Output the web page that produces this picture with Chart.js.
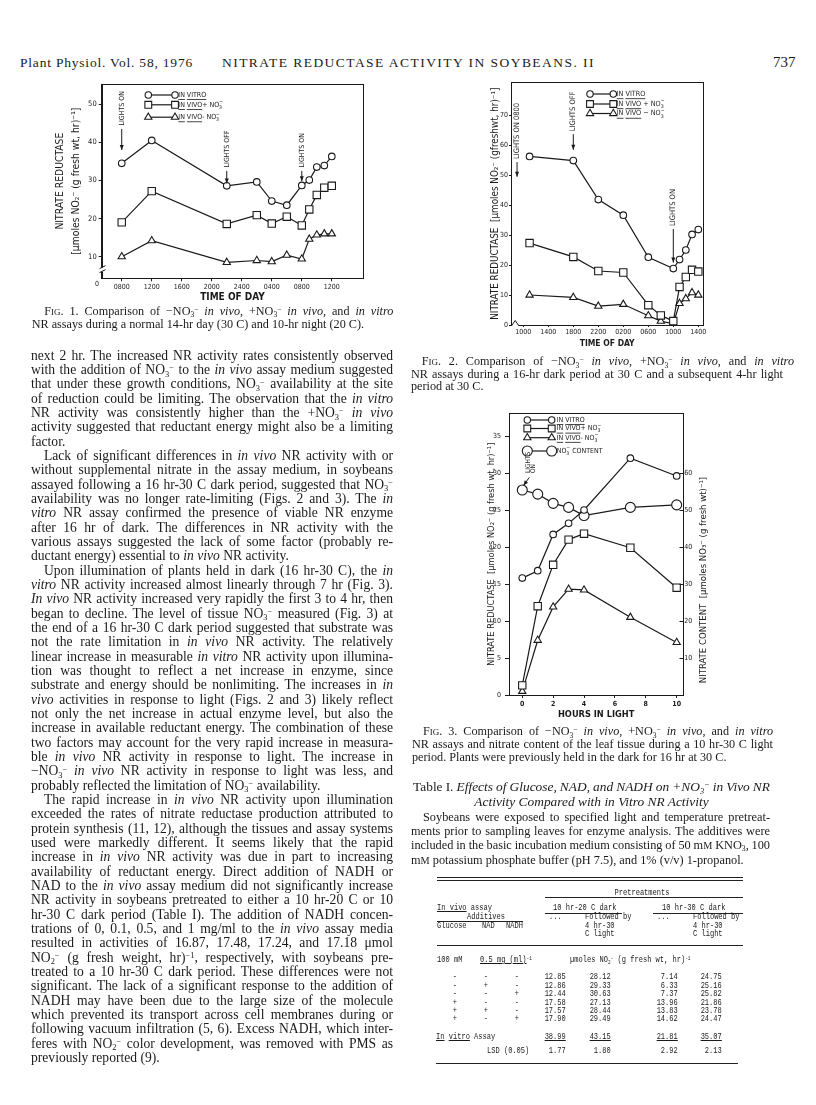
<!DOCTYPE html>
<html>
<head>
<meta charset="utf-8">
<title>Nitrate reductase activity in soybeans. II</title>
<script src="https://cdn.jsdelivr.net/npm/chart.js@4.4.1/dist/chart.umd.min.js"></script>
<style>
  html, body { margin: 0; padding: 0; background: #fff; }
  #page { position: relative; width: 816px; height: 1105px; overflow: hidden; color: #1a1a1a;
          font-family: "Liberation Serif", "Times New Roman", serif; }
  .abs { position: absolute; white-space: nowrap; }
  canvas { position: absolute; }
  .blk { position: absolute; }
  .ln { white-space: nowrap; }
  .ln.c { text-align: center; }
  sub, sup { font-size: 0.62em; line-height: 0; position: relative; vertical-align: baseline; }
  sub { top: 0.32em; }
  sup { top: -0.45em; }
  .sc { font-variant: small-caps; }
  .tt { position: absolute; font-family: "Liberation Mono", "DejaVu Sans Mono", monospace; font-size: 8.6px;
        line-height: 10px; height: 10px; white-space: nowrap; transform: scaleX(0.82); transform-origin: left center; }
  .tt.r { transform-origin: right center; }
  .tt.c { transform-origin: center center; text-align: center; }
  .u { text-decoration: underline; }
  .rule { position: absolute; height: 0; border-top: 1px solid #222; }
</style>
</head>
<body>
<div id="page">

  <!-- running head -->
  <div class="abs fit" data-w="173" style="left:20px;top:54px;font-size:13.5px;line-height:17px">Plant Physiol. Vol. 58, 1976</div>
  <div class="abs fit" data-w="373" style="left:222px;top:54px;font-size:13.5px;line-height:17px">NITRATE REDUCTASE ACTIVITY IN SOYBEANS. II</div>
  <div class="abs" style="left:773px;top:53px;font-size:15px;line-height:18px">737</div>

  <canvas id="fig1" width="360" height="232" style="left:20px;top:76px"></canvas>
  <canvas id="fig2" width="240" height="282" style="left:480px;top:76px"></canvas>
  <canvas id="fig3" width="240" height="320" style="left:480px;top:405px"></canvas>

  <!-- Fig. 1 caption -->
  <div class="blk" style="left:31.7px;top:305px;width:361.6px;font-size:12.2px;line-height:13.3px" data-ind="12.6">
    <div class="ln p"><span class="sc">Fig.</span> 1. Comparison of −NO3~ <i>in vivo</i>, +NO3~ <i>in vivo</i>, and <i>in vitro</i></div>
    <div class="ln e">NR assays during a normal 14-hr day (30 C) and 10-hr night (20 C).</div>
  </div>

  <!-- left column text -->
  <div class="blk" style="left:31px;top:348.8px;width:362px;font-size:13.6px;line-height:14.33px" data-ind="13">
    <div class="ln">next 2 hr. The increased NR activity rates consistently observed</div>
    <div class="ln">with the addition of NO3~ to the <i>in vivo</i> assay medium suggested</div>
    <div class="ln">that under these growth conditions, NO3~ availability at the site</div>
    <div class="ln">of reduction could be limiting. The observation that the <i>in vitro</i></div>
    <div class="ln">NR activity was consistently higher than the +NO3~ <i>in vivo</i></div>
    <div class="ln">activity suggested that reductant energy might also be a limiting</div>
    <div class="ln e">factor.</div>
    <div class="ln p">Lack of significant differences in <i>in vivo</i> NR activity with or</div>
    <div class="ln">without supplemental nitrate in the assay medium, in soybeans</div>
    <div class="ln">assayed following a 16 hr-30 C dark period, suggested that NO3~</div>
    <div class="ln">availability was no longer rate-limiting (Figs. 2 and 3). The <i>in</i></div>
    <div class="ln"><i>vitro</i> NR assay confirmed the presence of viable NR enzyme</div>
    <div class="ln">after 16 hr of dark. The differences in NR activity with the</div>
    <div class="ln">various assays suggested the lack of some factor (probably re-</div>
    <div class="ln e">ductant energy) essential to <i>in vivo</i> NR activity.</div>
    <div class="ln p">Upon illumination of plants held in dark (16 hr-30 C), the <i>in</i></div>
    <div class="ln"><i>vitro</i> NR activity increased almost linearly through 7 hr (Fig. 3).</div>
    <div class="ln"><i>In vivo</i> NR activity increased very rapidly the first 3 to 4 hr, then</div>
    <div class="ln">began to decline. The level of tissue NO3~ measured (Fig. 3) at</div>
    <div class="ln">the end of a 16 hr-30 C dark period suggested that substrate was</div>
    <div class="ln">not the rate limitation in <i>in vivo</i> NR activity. The relatively</div>
    <div class="ln">linear increase in measurable <i>in vitro</i> NR activity upon illumina-</div>
    <div class="ln">tion was thought to reflect a net increase in enzyme, since</div>
    <div class="ln">substrate and energy should be nonlimiting. The increases in <i>in</i></div>
    <div class="ln"><i>vivo</i> activities in response to light (Figs. 2 and 3) likely reflect</div>
    <div class="ln">not only the net increase in actual enzyme level, but also the</div>
    <div class="ln">increase in available reductant energy. The combination of these</div>
    <div class="ln">two factors may account for the very rapid increase in measura-</div>
    <div class="ln">ble <i>in vivo</i> NR activity in response to light. The increase in</div>
    <div class="ln">−NO3~ <i>in vivo</i> NR activity in response to light was less, and</div>
    <div class="ln e">probably reflected the limitation of NO3~ availability.</div>
    <div class="ln p">The rapid increase in <i>in vivo</i> NR activity upon illumination</div>
    <div class="ln">exceeded the rates of nitrate reductase production attributed to</div>
    <div class="ln">protein synthesis (11, 12), although the tissues and assay systems</div>
    <div class="ln">used were markedly different. It seems likely that the rapid</div>
    <div class="ln">increase in <i>in vivo</i> NR activity was due in part to increasing</div>
    <div class="ln">availability of reductant energy. Direct addition of NADH or</div>
    <div class="ln">NAD to the <i>in vivo</i> assay medium did not significantly increase</div>
    <div class="ln">NR activity in soybeans pretreated to either a 10 hr-20 C or 10</div>
    <div class="ln">hr-30 C dark period (Table I). The addition of NADH concen-</div>
    <div class="ln">trations of 0, 0.1, 0.5, and 1 mg/ml to the <i>in vivo</i> assay media</div>
    <div class="ln">resulted in activities of 16.87, 17.48, 17.24, and 17.18 μmol</div>
    <div class="ln">NO2~ (g fresh weight, hr)<sup>−1</sup>, respectively, with soybeans pre-</div>
    <div class="ln">treated to a 10 hr-30 C dark period. These differences were not</div>
    <div class="ln">significant. The lack of a significant response to the addition of</div>
    <div class="ln">NADH may have been due to the large size of the molecule</div>
    <div class="ln">which prevented its transport across cell membranes during or</div>
    <div class="ln">following vacuum infiltration (5, 6). Excess NADH, which inter-</div>
    <div class="ln">feres with NO2~ color development, was removed with PMS as</div>
    <div class="ln e">previously reported (9).</div>
  </div>

  <!-- Fig. 2 caption -->
  <div class="blk" style="left:411px;top:355.4px;width:383px;font-size:12.2px;line-height:12.5px" data-ind="10.7">
    <div class="ln p"><span class="sc">Fig.</span> 2. Comparison of −NO3~ <i>in vivo</i>, +NO3~ <i>in vivo</i>, and <i>in vitro</i></div>
    <div class="ln" data-w="372">NR assays during a 16-hr dark period at 30 C and a subsequent 4-hr light</div>
    <div class="ln e">period at 30 C.</div>
  </div>

  <!-- Fig. 3 caption -->
  <div class="blk" style="left:412px;top:725.3px;width:361px;font-size:12.2px;line-height:12.7px" data-ind="11">
    <div class="ln p"><span class="sc">Fig.</span> 3. Comparison of −NO3~ <i>in vivo</i>, +NO3~ <i>in vivo</i>, and <i>in vitro</i></div>
    <div class="ln">NR assays and nitrate content of the leaf tissue during a 10 hr-30 C light</div>
    <div class="ln e">period. Plants were previously held in the dark for 16 hr at 30 C.</div>
  </div>

  <!-- Table I title and note -->
  <div class="blk" style="left:413px;top:780.1px;width:357px;font-size:13.4px;line-height:14.4px">
    <div class="ln">Table I. <i>Effects of Glucose, NAD, and NADH on +NO3~ in Vivo NR</i></div>
    <div class="ln c"><i>Activity Compared with in Vitro NR Activity</i></div>
  </div>
  <div class="blk" style="left:411px;top:809.6px;width:359px;font-size:12.3px;line-height:14.2px" data-ind="12">
    <div class="ln p">Soybeans were exposed to specified light and temperature pretreat-</div>
    <div class="ln">ments prior to sampling leaves for enzyme analysis. The additives were</div>
    <div class="ln">included in the basic incubation medium consisting of 50 m<small>M</small> KNO<sub>3</sub>, 100</div>
    <div class="ln e">m<small>M</small> potassium phosphate buffer (pH 7.5), and 1% (v/v) 1-propanol.</div>
  </div>
</div>

<script>
// ---------- Fig. 1: normal 14-hr day / 10-hr night ----------
var fig1Hours = [8, 12, 22, 26, 28, 30, 32, 33, 34, 35, 36];
var fig1InVitro = [34.5, 40.5, 28.6, 29.6, 24.6, 23.5, 28.7, 30.1, 33.5, 33.9, 36.3];
var fig1InVivoPlus = [19.0, 27.2, 18.6, 20.9, 18.7, 20.5, 18.2, 22.4, 26.2, 28.1, 28.6];
var fig1InVivoMinus = [10.0, 14.2, 8.5, 9.0, 8.7, 10.4, 9.4, 14.6, 15.7, 16.0, 16.0];
var fig1XTicks = [8, 12, 16, 20, 24, 28, 32, 36];
var fig1XLabels = ['0800', '1200', '1600', '2000', '2400', '0400', '0800', '1200'];
var fig1YTicks = [10, 20, 30, 40, 50];

// ---------- Fig. 2: 16-hr dark then 4-hr light ----------
var fig2VitroHours = [11, 18, 22, 26, 30, 34, 35, 36, 37, 38];
var fig2InVitro = [56.2, 54.8, 41.8, 36.6, 22.6, 18.8, 21.8, 25.0, 30.2, 31.8];
var fig2VivoHours = [11, 18, 22, 26, 30, 32, 34, 35, 36, 37, 38];
var fig2InVivoPlus = [27.3, 22.7, 18.0, 17.5, 6.6, 3.2, 1.3, 12.7, 16.0, 18.4, 17.8];
var fig2InVivoMinus = [10.0, 9.2, 6.3, 6.9, 3.1, 1.3, 0.4, 7.2, 8.8, 10.8, 10.0];
var fig2XTicks = [10, 14, 18, 22, 26, 30, 34, 38];
var fig2XLabels = ['1000', '1400', '1800', '2200', '0200', '0600', '1000', '1400'];
var fig2YTicks = [0, 10, 20, 30, 40, 50, 60, 70];

// ---------- Fig. 3: hours in light ----------
var fig3Hours = [0, 1, 2, 3, 4, 7, 10];
var fig3InVitro = [15.8, 16.8, 21.7, 23.2, 25.0, 32.0, 29.6];
var fig3InVivoPlus = [1.3, 12.0, 17.6, 21.0, 21.8, 19.9, 14.5];
var fig3InVivoMinus = [0.5, 7.4, 11.9, 14.3, 14.2, 10.5, 7.1];
var fig3NitrateContent = [55.4, 54.3, 51.8, 50.7, 48.5, 50.7, 51.4];
var fig3XTicks = [0, 2, 4, 6, 8, 10];
var fig3YTicks = [0, 5, 10, 15, 20, 25, 30, 35];
var fig3Y2Ticks = [10, 20, 30, 40, 50, 60];

// ---------- Table I ----------
var tableGlucose = ['-', '-', '-', '+', '+', '+'];
var tableNad = ['-', '+', '-', '-', '+', '-'];
var tableNadh = ['-', '-', '+', '-', '-', '+'];
var table20Dark = [12.85, 12.86, 12.44, 17.58, 17.57, 17.90];
var table20Light = [28.12, 29.33, 30.63, 27.13, 28.44, 29.49];
var table30Dark = [7.14, 6.33, 7.37, 13.96, 13.83, 14.62];
var table30Light = [24.75, 25.16, 25.82, 21.86, 23.78, 24.47];
var tableInVitro = [38.99, 43.15, 21.81, 35.07];
var tableLsd = [1.77, 1.80, 2.92, 2.13];

var INK = '#1a1a1a';
var SANS = "'DejaVu Sans Condensed', 'DejaVu Sans', sans-serif";

// ---------- text layout ----------
function setText() {
    document.querySelectorAll('.blk').forEach(function (blk) {
        blk.innerHTML = blk.innerHTML.replace(/NO([23])~/g, 'NO<sub>$1</sub><sup>−</sup>');
        var width = parseFloat(blk.style.width);
        var ind = parseFloat(blk.getAttribute('data-ind') || '0');
        blk.querySelectorAll('.ln').forEach(function (ln) {
            ln.innerHTML = '<span class="t">' + ln.innerHTML + '</span>';
            if (ln.classList.contains('c')) return;
            var first = ln.classList.contains('p');
            if (first) ln.style.paddingLeft = ind + 'px';
            var target = ln.getAttribute('data-w') ? parseFloat(ln.getAttribute('data-w')) : width - (first ? ind : 0);
            var span = ln.firstChild;
            var natural = span.getBoundingClientRect().width;
            var gaps = (span.textContent.trim().match(/ /g) || []).length;
            if (!gaps) return;
            var ws = (target - natural) / gaps;
            if (ln.classList.contains('e') && ws > 0) ws = 0;
            ln.style.wordSpacing = ws + 'px';
        });
    });
    document.querySelectorAll('.fit').forEach(function (el) {
        var target = parseFloat(el.getAttribute('data-w'));
        var natural = el.getBoundingClientRect().width;
        el.style.letterSpacing = ((target - natural) / el.textContent.length) + 'px';
    });
}

// ---------- table ----------
var page = document.getElementById('page');

function tt(html, x, y, align) {
    var s = document.createElement('span');
    s.className = 'tt' + (align ? ' ' + align : '');
    s.innerHTML = html;
    s.style.top = (y - 5) + 'px';
    if (align === 'r') {
        s.style.right = (816 - x) + 'px';
    } else if (align === 'c') {
        s.style.left = (x - 40) + 'px';
        s.style.width = '80px';
    } else {
        s.style.left = x + 'px';
    }
    page.appendChild(s);
}

function rule(x1, x2, y, w) {
    var d = document.createElement('div');
    d.className = 'rule';
    d.style.left = x1 + 'px';
    d.style.top = y + 'px';
    d.style.width = (x2 - x1) + 'px';
    if (w) d.style.borderTopWidth = w + 'px';
    page.appendChild(d);
}

function drawTable() {
    var numX = [565.7, 610.7, 677.3, 721.7];
    var signX = [455, 486, 516.7];
    var rowY = [977, 985.6, 994, 1002.5, 1010.8, 1019.3];

    rule(436.7, 743, 877.2);
    rule(436.7, 743, 879.8);
    tt('Pretreatments', 641.7, 892.7, 'c');
    rule(545, 743, 897.3);
    tt('<span class="u">In vivo</span> assay', 436.7, 908.3);
    tt('10 hr-20 C dark', 553, 908.3);
    tt('10 hr-30 C dark', 661.7, 908.3);
    rule(545, 621.7, 912.7);
    rule(653, 743, 912.7);
    tt('Additives', 466.7, 917);
    tt('...', 549, 917);
    tt('Followed by', 585, 917);
    tt('...', 656.7, 917);
    tt('Followed by', 692.7, 917);
    rule(436.7, 523.3, 921.4);
    tt('Glucose', 436.7, 925.7);
    tt('NAD', 481.7, 925.7);
    tt('NADH', 506, 925.7);
    tt('4 hr-30', 585, 925.7);
    tt('4 hr-30', 692.7, 925.7);
    tt('C light', 585, 934.3);
    tt('C light', 692.7, 934.3);
    rule(436.7, 743, 945.2, 1.5);
    tt('100 mM', 436.7, 960);
    tt('<span class="u">0.5 mg (ml)</span><sup>-1</sup>', 480, 960);
    tt('µmoles NO<sub>2</sub><sup>-</sup> (g fresh wt, hr)<sup>-1</sup>', 570, 960);

    var cols = [table20Dark, table20Light, table30Dark, table30Light];
    rowY.forEach(function (y, i) {
        tt(tableGlucose[i], signX[0], y, 'c');
        tt(tableNad[i], signX[1], y, 'c');
        tt(tableNadh[i], signX[2], y, 'c');
        cols.forEach(function (col, j) {
            tt(col[i].toFixed(2), numX[j], y, 'r');
        });
    });

    tt('<span class="u">In</span> <span class="u">vitro</span> Assay', 436, 1036.7);
    tableInVitro.forEach(function (v, j) {
        tt('<span class="u">' + v.toFixed(2) + '</span>', numX[j], 1036.7, 'r');
    });
    tt('LSD (0.05)', 487.3, 1050.7);
    tableLsd.forEach(function (v, j) {
        tt(v.toFixed(2), numX[j], 1050.7, 'r');
    });
    rule(436, 738, 1062.8, 1.5);
}

// ---------- chart helpers ----------
function pts(xs, ys) {
    return xs.map(function (x, i) { return { x: x, y: ys[i] }; });
}

function series(label, xs, ys, style, radius, axis) {
    return {
        label: label,
        data: pts(xs, ys),
        yAxisID: axis || 'y',
        borderColor: INK,
        borderWidth: 1.2,
        backgroundColor: '#fff',
        pointStyle: style,
        pointRadius: radius,
        pointBorderWidth: 1.1,
        pointBackgroundColor: '#fff',
        pointBorderColor: INK,
        tension: 0,
        fill: false
    };
}

function fixedTicks(values) {
    return function (scale) {
        scale.ticks = values.map(function (v) { return { value: v }; });
    };
}
function fixWidth(w) { return function (scale) { scale.width = w; }; }
function fixHeight(h) { return function (scale) { scale.height = h; }; }

function marker(ctx, style, x, y, r) {
    ctx.beginPath();
    if (style === 'circle') {
        ctx.arc(x, y, r, 0, Math.PI * 2);
    } else if (style === 'rect') {
        var s = r * Math.SQRT1_2;
        ctx.rect(x - s, y - s, 2 * s, 2 * s);
    } else {
        ctx.moveTo(x, y - r);
        ctx.lineTo(x + 0.866 * r, y + 0.5 * r);
        ctx.lineTo(x - 0.866 * r, y + 0.5 * r);
        ctx.closePath();
    }
    ctx.fillStyle = '#fff';
    ctx.fill();
    ctx.stroke();
}

// text runs: [text, kind] where kind is 'u' (underlined), 'sub' or 'sup'
function drawRuns(ctx, runs, x, y, size) {
    var subX = null;
    runs.forEach(function (run) {
        var t = run[0], k = run[1];
        var small = (k === 'sub' || k === 'sup');
        ctx.font = (small ? size * 0.72 : size) + 'px ' + SANS;
        var dy = k === 'sub' ? size * 0.38 : (k === 'sup' ? -size * 0.42 : 0);
        var w = ctx.measureText(t).width;
        var at = (k === 'sup' && subX !== null) ? subX : x;
        ctx.fillStyle = INK;
        ctx.fillText(t, at, y + dy);
        if (k === 'u') ctx.fillRect(at, y + size * 0.6, w, 0.8);
        if (k === 'sub') { subX = x; x += w; }
        else if (k === 'sup' && subX !== null) { x = Math.max(x, subX + w); subX = null; }
        else { x += w; subX = null; }
    });
}

var paperPlugin = {
    id: 'paper',
    afterDraw: function (chart, args, o) {
        var ctx = chart.ctx, a = chart.chartArea;
        var xs = chart.scales.x, ys = chart.scales.y;
        ctx.save();
        ctx.strokeStyle = INK;
        ctx.fillStyle = INK;
        ctx.lineWidth = 1;

        // frame round the plot
        var L = Math.round(a.left) + 0.5, T = Math.round(a.top) + 0.5;
        var R = Math.round(a.right) + 0.5, B = Math.round(a.bottom) + 0.5;
        ctx.strokeRect(L, T, R - L, B - T);

        // axis breaks
        (o.breaksY || []).forEach(function (v) {
            var py = ys.getPixelForValue(v);
            ctx.fillStyle = '#fff';
            ctx.fillRect(L - 2, py - 2, 4, 4);
            ctx.beginPath();
            ctx.moveTo(L - 3, py - 1); ctx.lineTo(L + 3, py - 4);
            ctx.moveTo(L - 3, py + 3); ctx.lineTo(L + 3, py);
            ctx.stroke();
        });
        (o.breaksX || []).forEach(function (v) {
            var px = xs.getPixelForValue(v);
            ctx.fillStyle = '#fff';
            ctx.fillRect(px - 3, B - 1, 6, 2);
            ctx.beginPath();
            ctx.moveTo(px - 3.5, B); ctx.lineTo(px, B - 5); ctx.lineTo(px + 3.5, B);
            ctx.stroke();
        });
        ctx.fillStyle = INK;

        // ticks pointing into the plot
        (o.innerTicks || []).forEach(function (id) {
            var sc = chart.scales[id];
            sc.ticks.forEach(function (t) {
                var py = Math.round(sc.getPixelForValue(t.value)) + 0.5;
                ctx.beginPath();
                ctx.moveTo(R, py); ctx.lineTo(R - 4, py);
                ctx.stroke();
            });
        });

        // origin label
        if (o.origin) {
            ctx.font = o.origin.size + 'px ' + SANS;
            ctx.textAlign = 'center';
            ctx.textBaseline = 'middle';
            ctx.fillText('0', a.left + o.origin.dx, a.bottom + o.origin.dy);
        }

        // legend inside the frame
        if (o.legend) {
            var lg = o.legend;
            ctx.textAlign = 'left';
            ctx.textBaseline = 'middle';
            lg.rows.forEach(function (row) {
                ctx.beginPath();
                ctx.moveTo(lg.x1, row.y); ctx.lineTo(lg.x2, row.y);
                ctx.lineWidth = 1.2;
                ctx.stroke();
                ctx.lineWidth = 1.1;
                marker(ctx, row.style, lg.x1, row.y, row.r);
                marker(ctx, row.style, lg.x2, row.y, row.r);
                drawRuns(ctx, row.runs, lg.tx, row.y, lg.size);
            });
            ctx.lineWidth = 1;
        }

        // arrows with vertical labels
        (o.notes || []).forEach(function (n) {
            var x1 = xs.getPixelForValue(n.from[0]), y1 = ys.getPixelForValue(n.from[1]);
            var x2 = xs.getPixelForValue(n.to[0]), y2 = ys.getPixelForValue(n.to[1]);
            ctx.beginPath();
            ctx.moveTo(x1, y1); ctx.lineTo(x2, y2);
            ctx.stroke();
            var ang = Math.atan2(y2 - y1, x2 - x1);
            var c = Math.cos(ang), s = Math.sin(ang);
            ctx.beginPath();
            ctx.moveTo(x2, y2);
            ctx.lineTo(x2 - 5 * c + 2 * s, y2 - 5 * s - 2 * c);
            ctx.lineTo(x2 - 5 * c - 2 * s, y2 - 5 * s + 2 * c);
            ctx.closePath();
            ctx.fillStyle = INK;
            ctx.fill();
            var lx = xs.getPixelForValue(n.label[0]), ly = ys.getPixelForValue(n.label[1]);
            ctx.save();
            ctx.translate(lx, ly);
            ctx.rotate(-Math.PI / 2);
            ctx.font = n.size + 'px ' + SANS;
            ctx.textAlign = 'left';
            ctx.textBaseline = 'middle';
            n.lines.forEach(function (t, i) { ctx.fillText(t, 0, i * (n.size * 0.85)); });
            ctx.restore();
        });

        // title read bottom to top on the right
        if (o.sideTitle) {
            ctx.save();
            ctx.translate(o.sideTitle.x, o.sideTitle.y);
            ctx.rotate(-Math.PI / 2);
            ctx.font = o.sideTitle.size + 'px ' + SANS;
            ctx.textAlign = 'center';
            ctx.textBaseline = 'middle';
            ctx.fillText(o.sideTitle.text, 0, 0);
            ctx.restore();
        }
        ctx.restore();
    }
};

function axisX(min, max, ticks, labels, height, tickLen, pad, title, titleSize, titlePad, labelSize, bold) {
    return {
        type: 'linear', min: min, max: max,
        afterBuildTicks: fixedTicks(ticks),
        afterFit: fixHeight(height),
        ticks: {
            callback: function (v, i) { return labels ? labels[i] : String(v); },
            font: { size: labelSize, weight: bold ? 'bold' : 'normal' },
            color: INK, padding: pad, maxRotation: 0, autoSkip: false
        },
        grid: { drawOnChartArea: false, tickLength: tickLen, color: INK, tickColor: INK },
        border: { color: INK, width: 1 },
        title: { display: true, text: title, color: INK,
                 font: { size: titleSize, weight: 'bold', lineHeight: '10px' },
                 padding: { top: 0, bottom: titlePad } }
    };
}

function axisY(min, max, ticks, width, tickLen, pad, title, titleSize, lineH, titlePad, labelSize) {
    return {
        type: 'linear', min: min, max: max,
        afterBuildTicks: fixedTicks(ticks),
        afterFit: fixWidth(width),
        ticks: { callback: function (v) { return String(v); }, font: { size: labelSize }, color: INK, padding: pad },
        grid: { drawOnChartArea: false, tickLength: tickLen, color: INK, tickColor: INK },
        border: { color: INK, width: 1 },
        title: { display: true, text: title, color: INK,
                 font: { size: titleSize, lineHeight: lineH },
                 padding: { top: titlePad, bottom: 0 } }
    };
}

function baseOptions(pad) {
    return {
        responsive: false,
        animation: false,
        events: [],
        layout: { padding: pad },
        plugins: { legend: { display: false }, tooltip: { enabled: false } }
    };
}

Chart.defaults.font.family = SANS;
Chart.defaults.color = INK;

function drawFig1() {
    var opts = baseOptions({ top: 8, right: 16.7, bottom: 0, left: 0 });
    opts.scales = {
        x: axisX(5.33, 40.2, fig1XTicks, fig1XLabels, 29.7, 3, 2, 'TIME OF DAY', 10, 6, 7, false),
        y: axisY(4.33, 55.3, fig1YTicks, 81.7, 3, 2,
                 ['NITRATE REDUCTASE', '[µmoles NO₂⁻ (g fresh wt, hr)⁻¹]'], 10.3, '16.7px', 31.6, 7.5)
    };
    opts.plugins.paper = {
        breaksY: [6.6],
        origin: { dx: -4.7, dy: 6, size: 7 },
        legend: {
            x1: 128.3, x2: 155, tx: 158.3, size: 7,
            rows: [
                { y: 19, style: 'circle', r: 3.2, runs: [['IN', 'u'], [' '], ['VITRO', 'u']] },
                { y: 28.8, style: 'rect', r: 4.8, runs: [['IN', 'u'], [' '], ['VIVO', 'u'], ['+ NO'], ['3', 'sub'], ['−', 'sup']] },
                { y: 41.2, style: 'triangle', r: 4.2, runs: [['IN', 'u'], [' '], ['VIVO', 'u'], ['- NO'], ['3', 'sub'], ['−', 'sup']] }
            ]
        },
        notes: [
            { from: [8, 43.5], to: [8, 38.0], label: [8, 44.4], lines: ['LIGHTS ON'], size: 7 },
            { from: [22, 32.5], to: [22, 29.2], label: [22, 33.4], lines: ['LIGHTS OFF'], size: 7 },
            { from: [32, 32.5], to: [32, 29.8], label: [32, 33.4], lines: ['LIGHTS ON'], size: 7 }
        ]
    };
    new Chart(document.getElementById('fig1'), {
        type: 'line',
        data: { datasets: [
            series('IN VITRO', fig1Hours, fig1InVitro, 'circle', 3.3),
            series('IN VIVO + NO3', fig1Hours, fig1InVivoPlus, 'rect', 5.2),
            series('IN VIVO - NO3', fig1Hours, fig1InVivoMinus, 'triangle', 4.2)
        ] },
        options: opts,
        plugins: [paperPlugin]
    });
}

function drawFig2() {
    var opts = baseOptions({ top: 6.3, right: 16.7, bottom: 0, left: 0 });
    opts.scales = {
        x: axisX(8.03, 38.8, fig2XTicks, fig2XLabels, 33, 2, 1, 'TIME OF DAY', 8.5, 9.7, 7, false),
        y: axisY(0, 80.9, fig2YTicks, 31, 2, 1,
                 'NITRATE REDUCTASE  [µmoles NO₂⁻ (gfreshwt, hr)⁻¹]', 9.8, '10px', 10, 7)
    };
    opts.plugins.paper = {
        breaksX: [8.7],
        legend: {
            x1: 110, x2: 133.3, tx: 136.7, size: 7.2,
            rows: [
                { y: 18, style: 'circle', r: 3.2, runs: [['IN', 'u'], [' '], ['VITRO', 'u']] },
                { y: 28, style: 'rect', r: 4.8, runs: [['IN', 'u'], [' '], ['VIVO', 'u'], [' + NO'], ['3', 'sub'], ['−', 'sup']] },
                { y: 37.5, style: 'triangle', r: 4.2, runs: [['IN', 'u'], [' '], ['VIVO', 'u'], [' − NO'], ['3', 'sub'], ['−', 'sup']] }
            ]
        },
        notes: [
            { from: [9.0, 54.3], to: [9.0, 49.4], label: [9.0, 55.3], lines: ['LIGHTS ON 0800'], size: 7.5 },
            { from: [18, 63.6], to: [18, 58.4], label: [18, 64.6], lines: ['LIGHTS OFF'], size: 7.5 },
            { from: [34, 32.0], to: [34, 20.8], label: [34, 33.0], lines: ['LIGHTS ON'], size: 7.5 }
        ]
    };
    new Chart(document.getElementById('fig2'), {
        type: 'line',
        data: { datasets: [
            series('IN VITRO', fig2VitroHours, fig2InVitro, 'circle', 3.3),
            series('IN VIVO + NO3', fig2VivoHours, fig2InVivoPlus, 'rect', 5.2),
            series('IN VIVO - NO3', fig2VivoHours, fig2InVivoMinus, 'triangle', 4.2)
        ] },
        options: opts,
        plugins: [paperPlugin]
    });
}

function drawFig3() {
    var opts = baseOptions({ top: 8.3, right: 0, bottom: 0, left: 0 });
    var y2 = axisY(0, 76.14, fig3Y2Ticks, 36.7, 0, 1, '', 8.5, '10px', 0, 7);
    y2.position = 'right';
    y2.grid.drawTicks = false;
    y2.title.display = false;
    opts.scales = {
        x: axisX(-0.86, 10.43, fig3XTicks, null, 30, 3, 1.5, 'HOURS IN LIGHT', 9.2, 5, 7, true),
        y: axisY(0, 38.07, fig3YTicks, 29, 4, 4,
                 'NITRATE REDUCTASE  [µmoles NO₂⁻ (g fresh wt, hr)⁻¹]', 9.2, '10px', 6.5, 7),
        y2: y2
    };
    opts.plugins.paper = {
        innerTicks: ['y2'],
        sideTitle: { text: 'NITRATE CONTENT  [µmoles NO₃⁻ (g fresh wt)⁻¹]', x: 223.3, y: 175, size: 9.5 },
        legend: {
            x1: 47.3, x2: 71.7, tx: 76.7, size: 7,
            rows: [
                { y: 15, style: 'circle', r: 3.2, runs: [['IN', 'u'], [' '], ['VITRO', 'u']] },
                { y: 23.5, style: 'rect', r: 4.8, runs: [['IN', 'u'], [' '], ['VIVO', 'u'], ['+ NO'], ['3', 'sub'], ['−', 'sup']] },
                { y: 32.7, style: 'triangle', r: 4.2, runs: [['IN', 'u'], [' '], ['VIVO', 'u'], ['- NO'], ['3', 'sub'], ['−', 'sup']] },
                { y: 46, style: 'circle', r: 5, runs: [['NO'], ['3', 'sub'], ['−', 'sup'], [' CONTENT']] }
            ]
        },
        notes: [
            { from: [0.45, 29.4], to: [0.08, 28.3], label: [0.36, 30.0], lines: ['LIGHTS', 'ON'], size: 6.5 }
        ]
    };
    new Chart(document.getElementById('fig3'), {
        type: 'line',
        data: { datasets: [
            series('IN VITRO', fig3Hours, fig3InVitro, 'circle', 3.3),
            series('IN VIVO + NO3', fig3Hours, fig3InVivoPlus, 'rect', 5.2),
            series('IN VIVO - NO3', fig3Hours, fig3InVivoMinus, 'triangle', 4.2),
            series('NO3 CONTENT', fig3Hours, fig3NitrateContent, 'circle', 5, 'y2')
        ] },
        options: opts,
        plugins: [paperPlugin]
    });
}

setText();
drawTable();
drawFig1();
drawFig2();
drawFig3();
</script>
</body>
</html>
